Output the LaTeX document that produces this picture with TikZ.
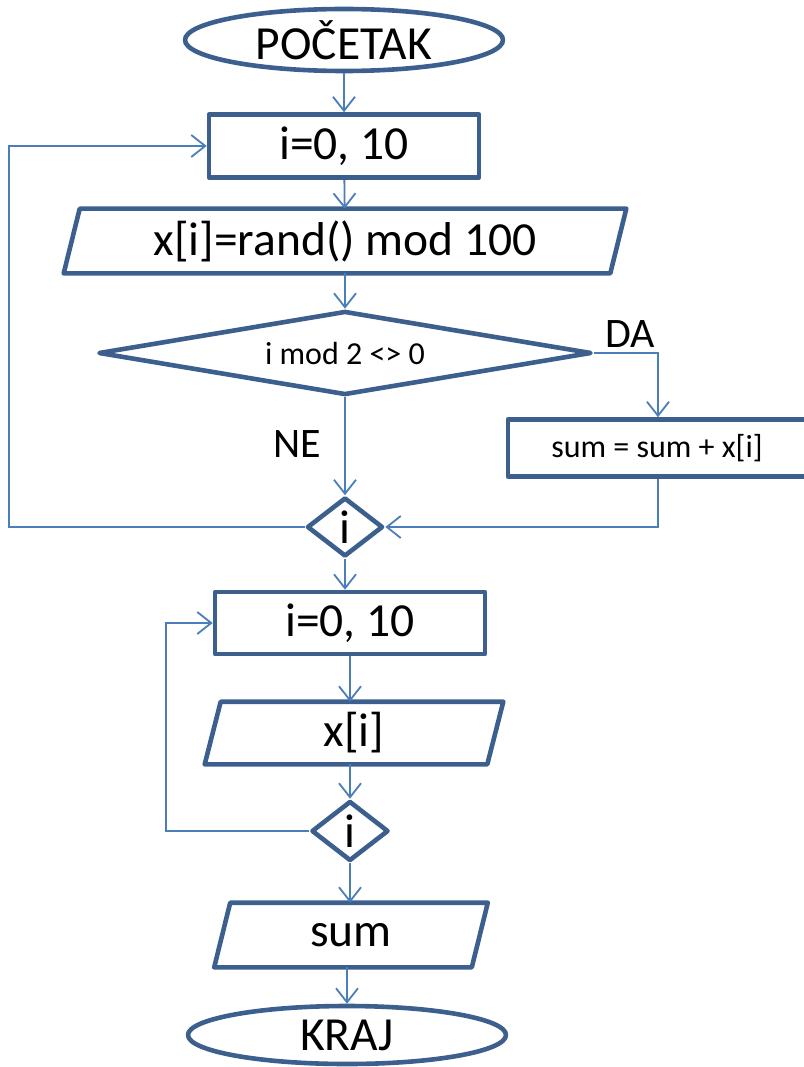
\documentclass[tikz,border=0pt]{standalone}
\usepackage{fontspec}
\setmainfont{Carlito}
\usetikzlibrary{shapes.geometric,arrows.meta}
\definecolor{shapeblue}{HTML}{3C5F8D}
\definecolor{linkblue}{HTML}{4A7EBB}
\begin{document}
\begin{tikzpicture}[x=1pt,y=-1pt,
  every node/.style={inner sep=0pt, text=black},
  frame/.style={draw=shapeblue, line width=4.6pt, line join=round, fill=white},
  outline/.style={draw=shapeblue, line width=4.6pt, line join=round},
  big/.style={font=\fontsize{47.5}{52}\selectfont},
  mid/.style={font=\fontsize{32}{36}\selectfont},
  lab/.style={font=\fontsize{42}{48}\selectfont},
  terminal/.style={frame, ellipse, big},
  process/.style={frame, rectangle},
  decision/.style={frame, diamond},
  iotext/.style={rectangle, big, outer sep=2.3pt},
  link/.style={draw=linkblue, line width=1.8pt},
  arrowlink/.style={link, -{Straight Barb[length=14pt,width=22pt]}}
]
\useasboundingbox (0,0) rectangle (803,1067);

% ---------- nodes ----------
\node[terminal, minimum width=318, minimum height=62] (start) at (344,40) {POČETAK};
\node[process, big, minimum width=270, minimum height=63] (loop1) at (344,146) {i=0, 10};
\node[iotext, minimum width=558, minimum height=60] (gen) at (345,241) {x[i]=rand() mod 100};
\node[decision, mid, aspect=5.87, minimum width=493, minimum height=84] (test) at (345,353) {i mod 2 <> 0};
\node[process, mid, minimum width=302, minimum height=57] (acc) at (659,448) {\hspace*{-4pt}sum = sum + x[i]};
\node[decision, big, aspect=1.29, minimum width=76, minimum height=59] (end1) at (345,527) {i};
\node[process, big, minimum width=270, minimum height=62] (loop2) at (350,623) {i=0, 10};
\node[iotext, minimum width=294, minimum height=58] (show) at (354,733) {x[i]};
\node[decision, big, aspect=1.28, minimum width=77, minimum height=60] (end2) at (350,831) {i};
\node[iotext, minimum width=269, minimum height=60] (out) at (351,935) {sum};
\node[terminal, minimum width=318, minimum height=58] (stop) at (347,1035) {KRAJ};

% parallelogram outlines for the input/output nodes
\foreach \n in {gen,show,out}{
  \draw[outline] ([xshift=16pt]\n.north west) -- (\n.north east)
     -- ([xshift=-16pt]\n.south east) -- (\n.south west) -- cycle;
}

% branch labels
\node[lab] (da) at (630,334) {DA};
\node[lab] (ne) at (297,444) {NE};

% loop-back columns
\coordinate (back1) at (9,0);
\coordinate (back2) at (166,0);
\coordinate (daline) at (658,0);

% ---------- connectors ----------
\draw[arrowlink] (start) -- (loop1);
\draw[arrowlink] (loop1) -- (gen);
\draw[arrowlink] (gen) -- (test);
\draw[arrowlink] (test.east) -| (daline |- acc.north);
\draw[arrowlink] (test.south) -- (end1.north);
\draw[arrowlink] (daline |- acc.south) |- (end1.east);
\draw[arrowlink] (end1.west) -- (end1.west -| back1) |- (loop1.west);
\draw[arrowlink] (end1.south) -- (end1.south |- loop2.north);
\draw[arrowlink] (loop2.south) -- (loop2.south |- show.north);
\draw[arrowlink] (loop2.south |- show.south) -- (end2.north);
\draw[arrowlink] (end2.west) -- (end2.west -| back2) |- (loop2.west);
\draw[arrowlink] (end2.south) -- (end2.south |- out.north);
\draw[arrowlink] (out.south -| stop.north) -- (stop.north);
\end{tikzpicture}
\end{document}
